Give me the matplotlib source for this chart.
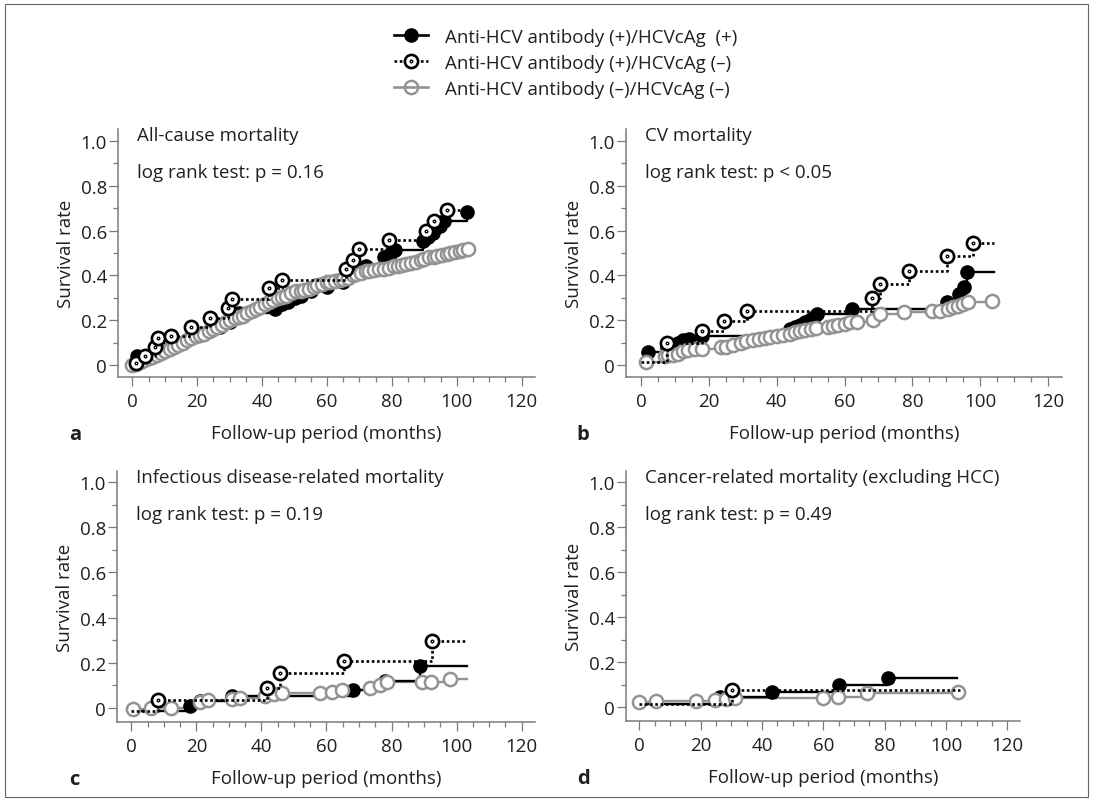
"""Cumulative mortality by anti-HCV antibody / HCVcAg status (4 panels)."""
import matplotlib
matplotlib.use('Agg')
import matplotlib.pyplot as plt
from matplotlib.lines import Line2D
from matplotlib.patches import Rectangle
from matplotlib.path import Path
from matplotlib.ticker import MultipleLocator

plt.rcParams['font.family'] = ['Open Sans', 'DejaVu Sans']

W, H = 1093, 803

# ---- data (months, cumulative rate) ----
# panel a: all-cause mortality
a_pp_t = [1.6, 6, 9, 12, 15, 18, 21, 24, 27, 30, 33, 44, 46, 48, 50, 52, 55, 60,
          65, 68, 72, 77.5, 79.5, 81, 89.5, 91, 92.7, 94.8, 96, 103]
a_pp_v = [0.04, 0.05, 0.07, 0.08, 0.10, 0.12, 0.14, 0.15, 0.17, 0.19, 0.23, 0.25,
          0.27, 0.28, 0.30, 0.31, 0.33, 0.35, 0.37, 0.40, 0.44, 0.48, 0.495, 0.515,
          0.555, 0.57, 0.59, 0.62, 0.645, 0.685]
a_pn_t = [1, 4, 7, 8, 12, 18, 24, 29.5, 30.7, 42, 46, 65.8, 68, 70, 79, 90.5, 93, 97]
a_pn_v = [0.01, 0.04, 0.08, 0.12, 0.13, 0.17, 0.21, 0.255, 0.295, 0.345, 0.38,
          0.43, 0.47, 0.52, 0.56, 0.60, 0.645, 0.69]
a_nn_t = [0, 1, 2.5, 3.5, 5, 6, 7.5, 9, 10, 11.5,
          13, 14, 15.5, 17, 18, 19.5, 21, 22, 23.5, 25,
          26, 27.5, 29, 30, 31.5, 33, 34, 35.5, 37, 38,
          39.5, 41, 42, 43.5, 45, 46, 47.5, 49, 50.5, 52,
          53, 54.5, 56, 57, 58.5, 60, 61, 62.5, 64, 65,
          66.5, 68, 69, 70.5, 72, 73, 74.5, 76, 77.5, 79,
          80.5, 82, 83, 84.5, 86, 87.5, 89, 90, 91.5, 93,
          94, 95.5, 97, 98, 99.5, 101, 102, 103.5]
a_nn_v = [0, 0.005, 0.015, 0.02, 0.03, 0.035, 0.045, 0.055, 0.06, 0.07,
          0.08, 0.09, 0.10, 0.11, 0.12, 0.13, 0.135, 0.14, 0.15, 0.16,
          0.17, 0.18, 0.19, 0.20, 0.21, 0.215, 0.22, 0.23, 0.24, 0.25,
          0.26, 0.27, 0.28, 0.29, 0.30, 0.305, 0.31, 0.32, 0.33, 0.33,
          0.335, 0.34, 0.35, 0.355, 0.36, 0.37, 0.37, 0.375, 0.38, 0.385,
          0.39, 0.40, 0.405, 0.41, 0.42, 0.42, 0.425, 0.43, 0.43, 0.435,
          0.44, 0.44, 0.445, 0.45, 0.455, 0.46, 0.47, 0.475, 0.48, 0.48,
          0.485, 0.49, 0.495, 0.50, 0.505, 0.51, 0.515, 0.52]

# panel b: CV mortality
b_pp_t = [2, 7.6, 9, 10.8, 12.5, 14.2, 18, 44, 45.5, 47, 48.5, 50, 51, 52, 62.3,
          90.2, 93.6, 95.3, 96.1]
b_pp_v = [0.057, 0.08, 0.09, 0.10, 0.11, 0.116, 0.13, 0.16, 0.17, 0.18, 0.19, 0.205,
          0.215, 0.228, 0.25, 0.28, 0.317, 0.347, 0.414]
b_pn_t = [7.6, 18, 24.5, 31.4, 68.1, 70.4, 79, 90.2, 97.8]
b_pn_v = [0.10, 0.15, 0.198, 0.243, 0.297, 0.36, 0.42, 0.488, 0.545]
b_nn_t = [1.5, 7, 8, 9.5, 11, 12.5, 14, 16, 18, 23.5, 25, 27, 29.4, 31, 33, 34.8,
          36.5, 38, 40.2, 42, 44, 45.5, 47, 48.5, 50, 51.5, 55, 56.5, 58, 60, 61.5,
          63.7, 68.4, 70.6, 77.5, 85.7, 88, 90.5, 92, 93.5, 95, 96.5, 103.4]
b_nn_v = [0.015, 0.04, 0.045, 0.045, 0.05, 0.06, 0.065, 0.07, 0.072, 0.079, 0.08,
          0.09, 0.10, 0.105, 0.11, 0.116, 0.12, 0.125, 0.13, 0.135, 0.14, 0.145,
          0.15, 0.155, 0.16, 0.165, 0.168, 0.175, 0.18, 0.185, 0.19, 0.19, 0.2,
          0.228, 0.235, 0.24, 0.24, 0.25, 0.26, 0.265, 0.27, 0.28, 0.287]

# panel c: infectious disease-related mortality
c_pp_t = [17.9, 21, 30.8, 68.3, 78.1, 88.9]
c_pp_v = [0.008, 0.032, 0.052, 0.081, 0.12, 0.184]
c_pn_t = [8.1, 41.6, 45.7, 65.4, 92.5]
c_pn_v = [0.035, 0.09, 0.155, 0.21, 0.298]
c_nn_t = [0.5, 6, 12.2, 21, 23.5, 30.8, 33.4, 41, 43.8, 46.3, 58, 61.7, 64.7, 73.5,
          76.5, 78.6, 89.4, 92, 98.1]
c_nn_v = [-0.005, 0.0, 0.0, 0.025, 0.035, 0.04, 0.045, 0.052, 0.062, 0.068, 0.068,
          0.073, 0.08, 0.087, 0.1, 0.113, 0.113, 0.117, 0.128]

# panel d: cancer-related mortality (excluding HCC)
d_pp_t = [26.1, 43.3, 65.1, 81.2]
d_pp_v = [0.043, 0.066, 0.099, 0.128]
d_pn_t = [30.3]
d_pn_v = [0.075]
d_nn_t = [0, 5.4, 18.3, 24.5, 28.3, 31.3, 59.9, 64.8, 74.1, 104]
d_nn_v = [0.022, 0.025, 0.025, 0.032, 0.036, 0.04, 0.042, 0.045, 0.062, 0.068]

titles = ['All-cause mortality', 'CV mortality',
          'Infectious disease-related mortality',
          'Cancer-related mortality (excluding HCC)']
pvals = ['log rank test: p = 0.16', 'log rank test: p < 0.05',
         'log rank test: p = 0.19', 'log rank test: p = 0.49']
letters = ['a', 'b', 'c', 'd']
legend_labels = ['Anti-HCV antibody (+)/HCVcAg  (+)',
                 'Anti-HCV antibody (+)/HCVcAg (\u2013)',
                 'Anti-HCV antibody (\u2013)/HCVcAg (\u2013)']

panels = [
    dict(pp=(a_pp_t, a_pp_v), pn=(a_pn_t, a_pn_v), nn=(a_nn_t, a_nn_v),
         ends=(103, 101.5, 103.5), base=0.0),
    dict(pp=(b_pp_t, b_pp_v), pn=(b_pn_t, b_pn_v), nn=(b_nn_t, b_nn_v),
         ends=(104, 104, 103.4), base=0.015),
    dict(pp=(c_pp_t, c_pp_v), pn=(c_pn_t, c_pn_v), nn=(c_nn_t, c_nn_v),
         ends=(103.3, 103.3, 103.3), base=-0.014),
    dict(pp=(d_pp_t, d_pp_v), pn=(d_pn_t, d_pn_v), nn=(d_nn_t, d_nn_v),
         ends=(103.5, 104.5, 104), base=0.013),
]

# axes boxes in pixels: left, top, right, bottom
boxes = [(118, 130, 535, 378), (626, 130, 1062, 378),
         (117, 472, 535, 723), (626, 472, 1020, 722)]
ylims = [(-0.054, 1.054), (-0.054, 1.054), (-0.062, 1.049), (-0.062, 1.049)]

GREY = '#939393'
AXC = '#7a7a7a'
TXT = '#231f20'
FS = 13.5
MS = 9.5

# open circle with a centre dot
ODOT = Path.make_compound_path(Path.unit_circle(), Path.circle((0, 0), 0.1))

fig = plt.figure(figsize=(W / 100, H / 100), dpi=100)


def step_series(ax, t, v, end, base, kind):
    xs = [0] + list(t) + [end]
    ys = [base] + list(v) + [v[-1]]
    if kind == 'nn':
        ax.step(xs, ys, where='post', color=GREY, lw=1.7, zorder=2)
        ax.plot(t, v, ls='none', marker='o', ms=MS, mfc='white', mec=GREY,
                mew=1.8, zorder=4)
    elif kind == 'pp':
        ax.step(xs, ys, where='post', color='black', lw=1.7, zorder=3)
        ax.plot(t, v, ls='none', marker='o', ms=MS, mfc='black', mec='black',
                zorder=3)
    else:
        ax.step(xs, ys, where='post', color='black', lw=1.9, ls=(0, (1, 1)),
                zorder=5)
        ax.plot(t, v, ls='none', marker=ODOT, ms=MS, mfc='white', mec='black',
                mew=1.9, zorder=6)


for i, p in enumerate(panels):
    l, t_, r, b = boxes[i]
    ax = fig.add_axes([l / W, 1 - b / H, (r - l) / W, (b - t_) / H])
    step_series(ax, *p['nn'], p['ends'][2], p['base'], 'nn')
    step_series(ax, *p['pp'], p['ends'][0], p['base'], 'pp')
    step_series(ax, *p['pn'], p['ends'][1], p['base'], 'pn')

    ax.set_xlim(-4.4, 124.1)
    ax.set_ylim(*ylims[i])
    ax.set_xticks(range(0, 121, 20))
    ax.xaxis.set_minor_locator(MultipleLocator(5))
    ax.set_yticks([0, 0.2, 0.4, 0.6, 0.8, 1.0])
    ax.set_yticklabels(['0', '0.2', '0.4', '0.6', '0.8', '1.0'])
    ax.yaxis.set_minor_locator(MultipleLocator(0.1))
    for s in ['top', 'right']:
        ax.spines[s].set_visible(False)
    for s in ['left', 'bottom']:
        ax.spines[s].set_color(AXC)
        ax.spines[s].set_linewidth(1.1)
    ax.tick_params(which='major', length=6.5, width=0.9, color=AXC,
                   labelsize=FS, labelcolor=TXT, pad=4.5)
    ax.tick_params(which='minor', length=3.8, width=0.9, color=AXC)
    ax.tick_params(axis='y', which='major', pad=1.5)

    fig.text((l + 19) / W, 1 - (t_ + 6) / H, titles[i], fontsize=FS, color=TXT,
             va='center', ha='left')
    fig.text((l + 19) / W, 1 - (t_ + 43) / H, pvals[i], fontsize=FS, color=TXT,
             va='center', ha='left')
    fig.text((l + r) / 2 / W, 1 - (b + 56) / H, 'Follow-up period (months)',
             fontsize=FS, color=TXT, ha='center', va='center')
    fig.text((l - 52) / W, 1 - (t_ + b) / 2 / H, 'Survival rate', fontsize=FS,
             color=TXT, rotation=90, ha='center', va='center')
    fig.text((l - 43) / W, 1 - (b + 57) / H, letters[i], fontsize=FS + 1,
             fontweight='bold', color=TXT, ha='center', va='center')

# legend
h_pp = Line2D([], [], color='black', lw=1.9, marker='o', ms=MS)
h_pn = Line2D([], [], color='black', lw=1.9, ls=(0, (1, 1)), marker=ODOT,
              ms=MS, mfc='white', mec='black', mew=1.9)
h_nn = Line2D([], [], color=GREY, lw=1.9, marker='o', ms=MS, mfc='none',
              mec=GREY, mew=1.8)
fig.legend([h_pp, h_pn, h_nn], legend_labels,
           loc='upper left', bbox_to_anchor=(394 / W, 1 - 29 / H),
           frameon=False, fontsize=FS, handlelength=1.8, handletextpad=0.9,
           labelspacing=0.42, borderpad=0, borderaxespad=0, numpoints=1,
           labelcolor=TXT)

fig.add_artist(Rectangle((5 / W, 5 / H), 1083 / W, 793 / H,
                         transform=fig.transFigure, fill=False,
                         ec='#666666', lw=0.8))

fig.savefig('out.png', dpi=100)
